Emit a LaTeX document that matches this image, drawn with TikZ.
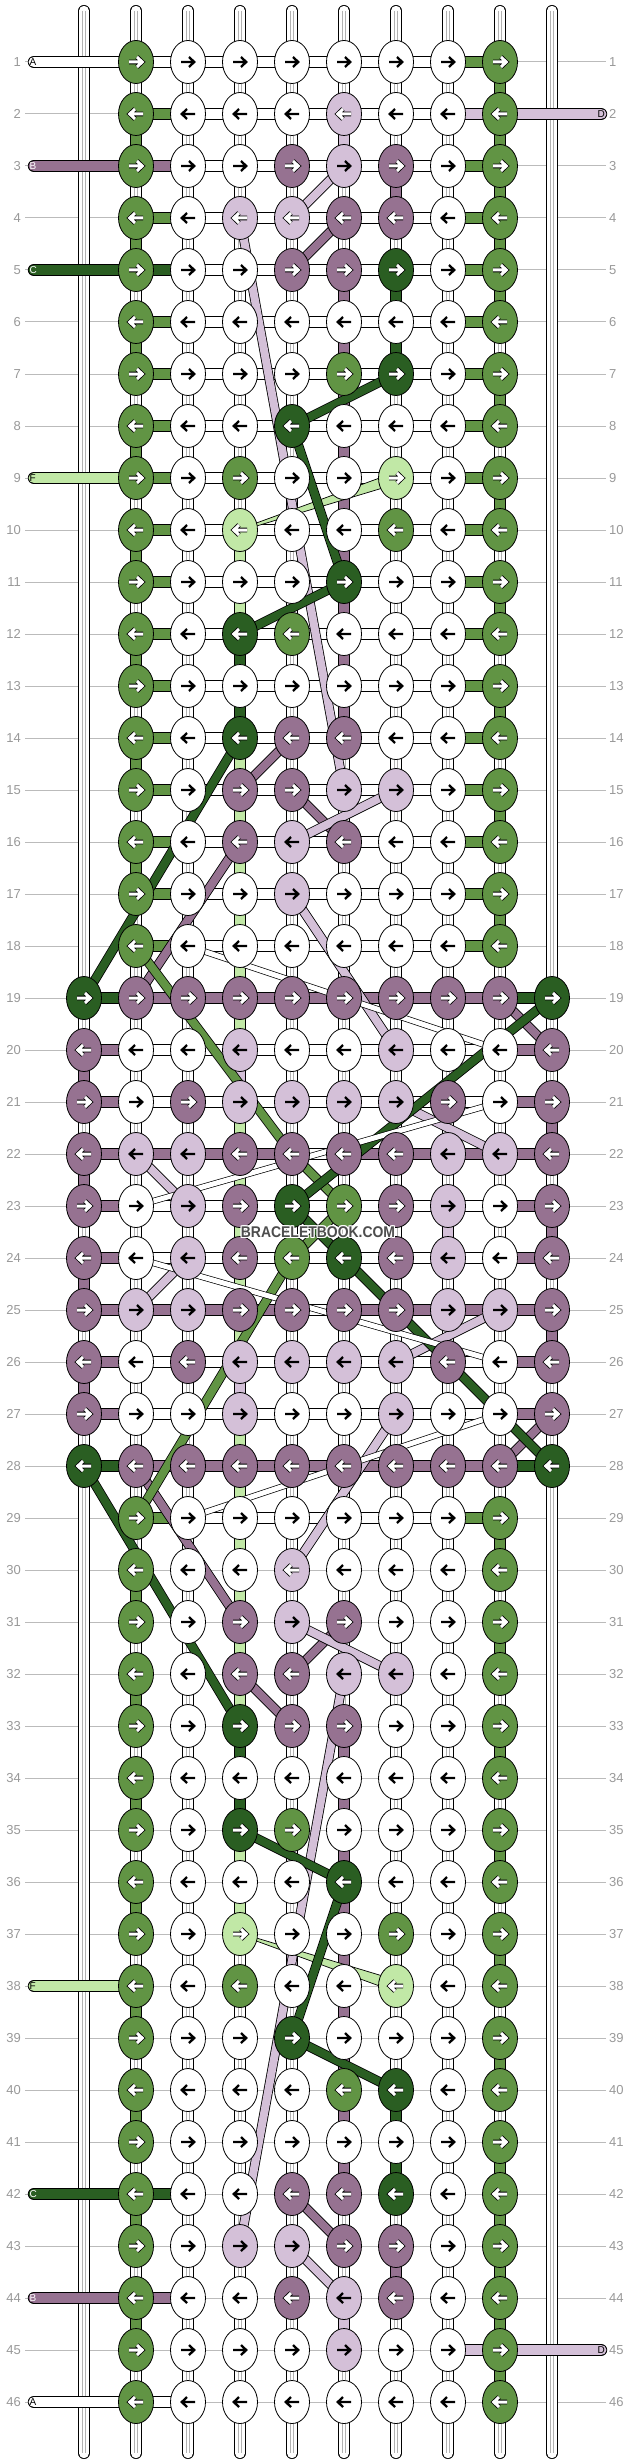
\documentclass[tikz,border=0pt]{standalone}
\usepackage{fontspec}
\setmainfont{Liberation Sans}
\usetikzlibrary{shapes.geometric}
\definecolor{kG}{HTML}{619444}
\definecolor{kDG}{HTML}{2A5E22}
\definecolor{kLG}{HTML}{C1E8A6}
\definecolor{kP}{HTML}{967291}
\definecolor{kLP}{HTML}{D4C0D8}
\definecolor{kLPw}{HTML}{D4C0D8}
\definecolor{kW}{HTML}{FFFFFF}
\definecolor{guidegray}{HTML}{BBBBBB}
\definecolor{lblgray}{HTML}{999999}
\definecolor{wmgray}{HTML}{4D4D4D}
\def\awG{1}\def\awDG{1}\def\awP{1}\def\awLG{1}\def\awLPw{1}
\def\awW{0}\def\awLP{0}
\tikzset{
  knot/.style={ellipse, draw=black, line width=0.8pt, minimum width=35pt, minimum height=43pt, inner sep=0pt},
  barout/.style={draw=black, line width=12.4pt},
  barfill/.style={draw=k#1, line width=10.8pt},
  vout/.style={draw=black, line width=11.6pt},
  vfill/.style={draw=k#1, line width=10pt},
  vinner/.style={draw=black!30, line width=0.5pt},
  flout/.style={draw=black, line width=9.6pt},
  flfill/.style={draw=k#1, line width=8pt},
  wout/.style={draw=black, line width=6.4pt},
  wfill/.style={draw=white, line width=5pt},
  lbl/.style={text=lblgray, font=\fontsize{13}{13}\selectfont, inner sep=0pt},
  guide/.style={draw=guidegray, line width=1pt},
  endlbl/.style={font=\fontsize{10}{10}\selectfont, inner sep=0pt},
  wm/.style={font=\fontsize{15.5}{15.5}\bfseries\selectfont, inner sep=0pt, xscale=0.9},
  arrb/.pic={\draw[line width=2.3pt, line join=miter] (-7,0)--(5.5,0) (1,-5)--(6.2,0)--(1,5);},
  arrw/.pic={\draw[line width=4.6pt, line join=miter, line cap=square] (-7,0)--(5.3,0) (1,-5)--(6.2,0)--(1,5);
             \draw[white, line width=3pt, line join=miter, line cap=square] (-7,0)--(5.3,0) (1,-5)--(6.2,0)--(1,5);}
}
\newcommand\wtube[2]{\draw[vout] (#1)--(#2); \draw[vfill=W] (#1)--(#2);
  \draw[vinner] ([xshift=-1.7pt]#1)--([xshift=-1.7pt]#2); \draw[vinner] ([xshift=1.7pt]#1)--([xshift=1.7pt]#2);}
\newcommand\rtube[2]{\draw[vout,line cap=round] (#1)--(#2); \draw[vfill=W,line cap=round] (#1)--(#2);
  \draw[vinner] ([xshift=-1.7pt]#1)--([xshift=-1.7pt]#2); \draw[vinner] ([xshift=1.7pt]#1)--([xshift=1.7pt]#2);}
\newcommand\ctube[3]{\draw[vout] (#2)--(#3); \draw[vfill=#1] (#2)--(#3);}
\newcommand\hseg[3]{\draw[barout] (#2)--(#3); \draw[barfill=#1] (#2)--(#3);}
\newcommand\flo[2]{\draw[flout, line join=round] #2; \draw[flfill=#1, line join=round] #2;}
\newcommand\wflo[2]{\draw[wout] (#1)--(#2); \draw[wfill] (#1)--(#2);}
\newcommand\lgwedge[3]{% color, narrow end, wide end
  \filldraw[fill=k#1, draw=black, line width=0.7pt] ([yshift=-1pt]#2) -- ([yshift=-6pt]#3) -- ([yshift=6pt]#3) -- ([yshift=1pt]#2) -- cycle;}
\newcommand\knotat[3]{%
  \node[knot, fill=k#3] (kn#1-#2) at (p#1-#2) {};
  \ifodd#1\relax\def\dd{1}\else\def\dd{-1}\fi
  \ifnum\csname aw#3\endcsname=1\relax
    \pic[xscale=\dd] at (p#1-#2) {arrw};
  \else
    \pic[xscale=\dd] at (p#1-#2) {arrb};
  \fi}
\newcommand\lend[4]{% row, color, letter, textcolor
  \draw[barout, line cap=round] (34,{62+52*(#1-1)}) -- (p#1-1);
  \draw[barfill=#2, line cap=round] (34,{62+52*(#1-1)}) -- (p#1-1);
  \node[endlbl, text=#4, anchor=west] (end#3#1) at (29.5,{62+52*(#1-1)}) {#3};}
\newcommand\rend[4]{%
  \draw[barout, line cap=round] (p#1-8) -- (601,{62+52*(#1-1)});
  \draw[barfill=#2, line cap=round] (p#1-8) -- (601,{62+52*(#1-1)});
  \node[endlbl, text=#4, anchor=east] (end#3#1) at (605,{62+52*(#1-1)}) {#3};}

\begin{document}
\begin{tikzpicture}[x=1pt,y=-1pt]
\useasboundingbox (0,0) rectangle (636,2464);
\fill[white] (0,0) rectangle (636,2464);
% grid coordinates
\foreach \r in {1,...,46}{
  \foreach \c in {0,...,9}{
    \coordinate (p\r-\c) at ({84+52*\c},{62+52*(\r-1)});
  }
}
\foreach \c in {0,...,9}{
  \coordinate (top\c) at ({84+52*\c},10.8);
  \coordinate (bot\c) at ({84+52*\c},2453.2);
}
% guide lines and row numbers
\foreach \r in {1,...,46}{
  \draw[guide] (25,{62+52*(\r-1)}) -- (606,{62+52*(\r-1)});
  \node[lbl,anchor=east] (ll\r) at (21,{62+52*(\r-1)}) {\r};
  \node[lbl,anchor=west] (lr\r) at (609,{62+52*(\r-1)}) {\r};
}
% strings from top and bottom
\foreach \c in {1,...,8}{
  \rtube{top\c}{p1-\c}
  \rtube{p46-\c}{bot\c}
}
\rtube{top0}{p19-0}
\rtube{top9}{p19-9}
\rtube{p28-0}{bot0}
\rtube{p28-9}{bot9}
% vertical segments
\foreach \g in {1,...,45}{
  \pgfmathtruncatemacro\h{\g+1}
  \foreach \c in {1,...,8}{ \wtube{p\g-\c}{p\h-\c} }
}
\foreach \g in {19,...,27}{
  \pgfmathtruncatemacro\h{\g+1}
  \foreach \c in {0,9}{ \wtube{p\g-\c}{p\h-\c} }
}
\foreach \c/\g/\col in {
  1/2/G,1/4/G,1/6/G,1/8/G,1/10/G,1/12/G,1/14/G,1/16/G,1/30/G,1/32/G,1/34/G,1/36/G,1/38/G,1/40/G,1/42/G,1/44/G,
  8/1/G,8/2/G,8/3/G,8/4/G,8/5/G,8/7/G,8/9/G,8/11/G,8/13/G,8/15/G,8/17/G,
  8/29/G,8/31/G,8/33/G,8/35/G,8/37/G,8/39/G,8/41/G,8/42/G,8/43/G,8/44/G,8/45/G,
  3/10/LG,3/11/LG,3/12/DG,3/13/DG,3/14/LG,3/15/LG,3/16/LG,3/17/LG,3/18/LG,3/19/LG,3/20/LP,3/21/LG,3/22/LG,
  3/23/LG,3/24/LG,3/25/LG,3/26/LP,3/27/LG,3/28/LG,3/29/LG,3/30/LG,3/31/LG,3/32/LG,3/33/DG,3/34/DG,3/35/LG,3/36/LG,
  4/9/LP,4/37/LP,
  5/2/LP,5/44/LP,5/5/P,5/6/P,5/7/P,5/8/P,5/9/P,5/10/P,5/11/P,5/12/P,5/13/P,
  5/33/P,5/34/P,5/35/P,5/36/P,5/37/P,5/38/P,5/39/P,5/40/P,5/41/P,
  6/3/P,6/43/P,6/5/DG,6/6/DG,6/40/DG,6/41/DG,
  0/20/P,0/22/P,0/24/P,0/26/P,9/21/P,9/23/P,9/25/P,7/23/LP}{
  \pgfmathtruncatemacro\h{\g+1}
  \ctube{\col}{p\g-\c}{p\h-\c}
}
% horizontal segments, plain rows
\foreach \r in {1,...,18,29,...,46}{
  \foreach \i in {1,...,7}{
    \pgfmathtruncatemacro\j{\i+1}
    \def\col{W}
    \ifnum\i=1 \def\col{G}\fi
    \ifnum\i=7 \def\col{G}\fi
    \hseg{\col}{p\r-\i}{p\r-\j}
  }
}
\foreach \r/\i/\col in {1/1/W,2/7/LP,3/1/P,5/1/DG,42/1/DG,44/1/P,45/7/LP,46/1/W}{
  \pgfmathtruncatemacro\j{\i+1}
  \hseg{\col}{p\r-\i}{p\r-\j}
}
% horizontal segments, wide rows
\foreach \r/\bl in {19/{DG,P,P,P,P,P,P,P,DG},20/{P,W,W,W,W,W,W,W,P},21/{P,W,W,W,W,W,W,W,P},
  22/{P,P,P,P,W,P,P,P,P},23/{P,W,W,W,W,W,W,W,P},24/{P,W,W,W,W,W,W,W,P},25/{P,P,P,P,W,P,P,P,P},
  26/{P,W,W,W,W,W,W,W,P},27/{P,W,W,W,W,W,W,W,P},28/{DG,P,P,P,P,P,P,P,DG}}{
  \foreach \col [count=\j] in \bl {
    \pgfmathtruncatemacro\i{\j-1}
    \hseg{\col}{p\r-\i}{p\r-\j}
  }
}
% thread ends
\lend{1}{W}{A}{black}
\lend{3}{P}{B}{white}
\lend{5}{DG}{C}{white}
\lend{9}{LG}{F}{black}
\lend{38}{LG}{F}{black}
\lend{42}{DG}{C}{white}
\lend{44}{P}{B}{white}
\lend{46}{W}{A}{black}
\rend{2}{LP}{D}{black}
\rend{45}{LP}{D}{black}
% floating threads
\flo{LP}{(p4-3)--(p15-5)}
\flo{LP}{(p43-3)--(p32-5)}
\lgwedge{LG}{p10-3}{p9-6}
\lgwedge{LG}{p37-3}{p38-6}
\flo{LP}{(p3-5)--(p4-4)}
\flo{P}{(p4-5)--(p5-4)}
\flo{LP}{(p44-5)--(p43-4)}
\flo{P}{(p43-5)--(p42-4)}
\flo{DG}{(p7-6)--(p8-4)--(p11-5)--(p12-3)}
\flo{DG}{(p40-6)--(p39-4)--(p36-5)--(p35-3)}
\flo{DG}{(p14-3)--(p19-0)}
\flo{DG}{(p33-3)--(p28-0)}
\flo{P}{(p14-4)--(p15-3)}
\flo{P}{(p33-4)--(p32-3)}
\flo{P}{(p15-4)--(p16-5)}
\flo{P}{(p32-4)--(p31-5)}
\flo{LP}{(p15-6)--(p16-4)}
\flo{LP}{(p32-6)--(p31-4)}
\flo{P}{(p16-3)--(p19-1)}
\flo{P}{(p31-3)--(p28-1)}
\flo{LP}{(p17-4)--(p20-6)}
\flo{LP}{(p30-4)--(p27-6)}
\flo{P}{(p19-8)--(p20-9)}
\flo{P}{(p27-9)--(p28-8)}
\flo{LP}{(p21-6)--(p22-8)}
\flo{LP}{(p25-8)--(p26-6)}
\flo{LP}{(p22-1)--(p23-2)}
\flo{LP}{(p24-2)--(p25-1)}
\flo{G}{(p18-1)--(p22-4)--(p23-5)--(p24-4)--(p29-1)}
\flo{DG}{(p19-9)--(p23-4)--(p24-5)--(p28-9)}
\wflo{p18-2}{p20-8}
\wflo{p21-8}{p23-1}
\wflo{p24-1}{p26-8}
\wflo{p27-8}{p29-2}
% knots, narrow rows
\foreach \r/\kl in {1/{G,W,W,W,W,W,W,G},2/{G,W,W,W,LPw,W,W,G},3/{G,W,W,P,LP,P,W,G},
  4/{G,W,LPw,LPw,P,P,W,G},5/{G,W,W,P,P,DG,W,G},6/{G,W,W,W,W,W,W,G},7/{G,W,W,W,G,DG,W,G},
  8/{G,W,W,DG,W,W,W,G},9/{G,W,G,W,W,LG,W,G},10/{G,W,LG,W,W,G,W,G},11/{G,W,W,W,DG,W,W,G},
  12/{G,W,DG,G,W,W,W,G},13/{G,W,W,W,W,W,W,G},14/{G,W,DG,P,P,W,W,G},15/{G,W,P,P,LP,LP,W,G},
  16/{G,W,P,LP,P,W,W,G},17/{G,W,W,LP,W,W,W,G},18/{G,W,W,W,W,W,W,G},
  29/{G,W,W,W,W,W,W,G},30/{G,W,W,LPw,W,W,W,G},31/{G,W,P,LP,P,W,W,G},32/{G,W,P,P,LP,LP,W,G},
  33/{G,W,DG,P,P,W,W,G},34/{G,W,W,W,W,W,W,G},35/{G,W,DG,G,W,W,W,G},36/{G,W,W,W,DG,W,W,G},
  37/{G,W,LG,W,W,G,W,G},38/{G,W,G,W,W,LG,W,G},39/{G,W,W,DG,W,W,W,G},40/{G,W,W,W,G,DG,W,G},
  41/{G,W,W,W,W,W,W,G},42/{G,W,W,P,P,DG,W,G},43/{G,W,LP,LP,P,P,W,G},44/{G,W,W,P,LP,P,W,G},
  45/{G,W,W,W,LP,W,W,G},46/{G,W,W,W,W,W,W,G}}{
  \foreach \k [count=\c] in \kl { \knotat{\r}{\c}{\k} }
}
% knots, wide rows
\foreach \r/\kl in {19/{DG,P,P,P,P,P,P,P,P,DG},20/{P,W,W,LP,W,W,LP,W,W,P},21/{P,W,P,LP,LP,LP,LP,P,W,P},
  22/{P,LP,LP,P,P,P,P,LP,LP,P},23/{P,W,LP,P,DG,G,P,LP,W,P},24/{P,W,LP,P,G,DG,P,LP,W,P},
  25/{P,LP,LP,P,P,P,P,LP,LP,P},26/{P,W,P,LP,LP,LP,LP,P,W,P},27/{P,W,W,LP,W,W,LP,W,W,P},
  28/{DG,P,P,P,P,P,P,P,P,DG}}{
  \foreach \k [count=\j] in \kl { \pgfmathtruncatemacro\c{\j-1}\knotat{\r}{\c}{\k} }
}
% watermark
\foreach \dx/\dy [count=\n] in {-1/-1,-1/0,-1/1,0/-1,0/1,1/-1,1/0,1/1}{
  \node[wm, text=white] (wmh\n) at ({318+\dx},{1232+\dy}) {BRACELETBOOK.COM};
}
\node[wm, text=wmgray] (wm) at (318,1232) {BRACELETBOOK.COM};
\end{tikzpicture}
\end{document}
